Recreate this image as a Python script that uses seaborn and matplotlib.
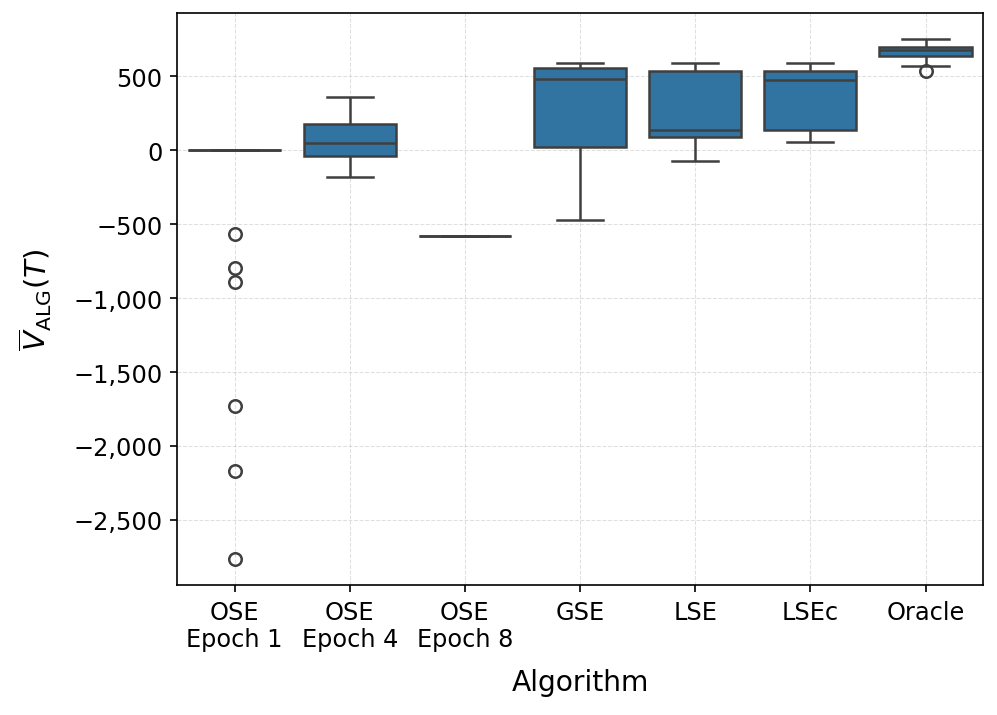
import matplotlib
matplotlib.use("Agg")
import matplotlib.pyplot as plt
import matplotlib.ticker as mticker
import seaborn as sns
import pandas as pd

# Algorithm names (tick labels)
algorithms = ["OSE\nEpoch 1", "OSE\nEpoch 4", "OSE\nEpoch 8", "GSE", "LSE", "LSEc", "Oracle"]

# Final values per algorithm
ose_epoch1 = [0] * 20 + [-568, -800, -890, -1727, -2167, -2764]
ose_epoch4 = [-185, -43, 45, 176, 356]
ose_epoch8 = [-579, -579, -579, -579, -579]
gse = [-471, 22, 480, 552, 588]
lse = [-72, 88, 135, 532, 588]
lsec = [54, 133, 473, 532, 588]
oracle = [536, 570, 633, 650, 678, 690, 696, 720, 748]

# Build a long table for seaborn
rows = []
for name, vals in zip(algorithms, [ose_epoch1, ose_epoch4, ose_epoch8, gse, lse, lsec, oracle]):
    for v in vals:
        rows.append({"Algorithm": name, "value": v})
df = pd.DataFrame(rows)

plt.figure(figsize=(6.647, 4.773), dpi=150)
ax = sns.boxplot(data=df, x="Algorithm", y="value", order=algorithms, linewidth=1.2,
                 fliersize=6, flierprops={"markeredgewidth": 1.2})
ax.set_position([0.1775, 0.1816, 0.8085, 0.7988])

ax.grid(True, linestyle="--", linewidth=0.5, alpha=0.4)
ax.set_axisbelow(True)
ax.set_ylim(-2939, 926)

# thousands separator with a real minus sign
ax.yaxis.set_major_formatter(mticker.FuncFormatter(lambda x, p: f"{x:,.0f}".replace("-", "\u2212")))
ax.tick_params(labelsize=11.5)
ax.set_xlabel("Algorithm", fontsize=13.5, labelpad=8)
ax.set_ylabel(r"$\overline{V}_{\mathrm{ALG}}(T)$", fontsize=14, labelpad=9)

plt.savefig("out.png", dpi=150)
